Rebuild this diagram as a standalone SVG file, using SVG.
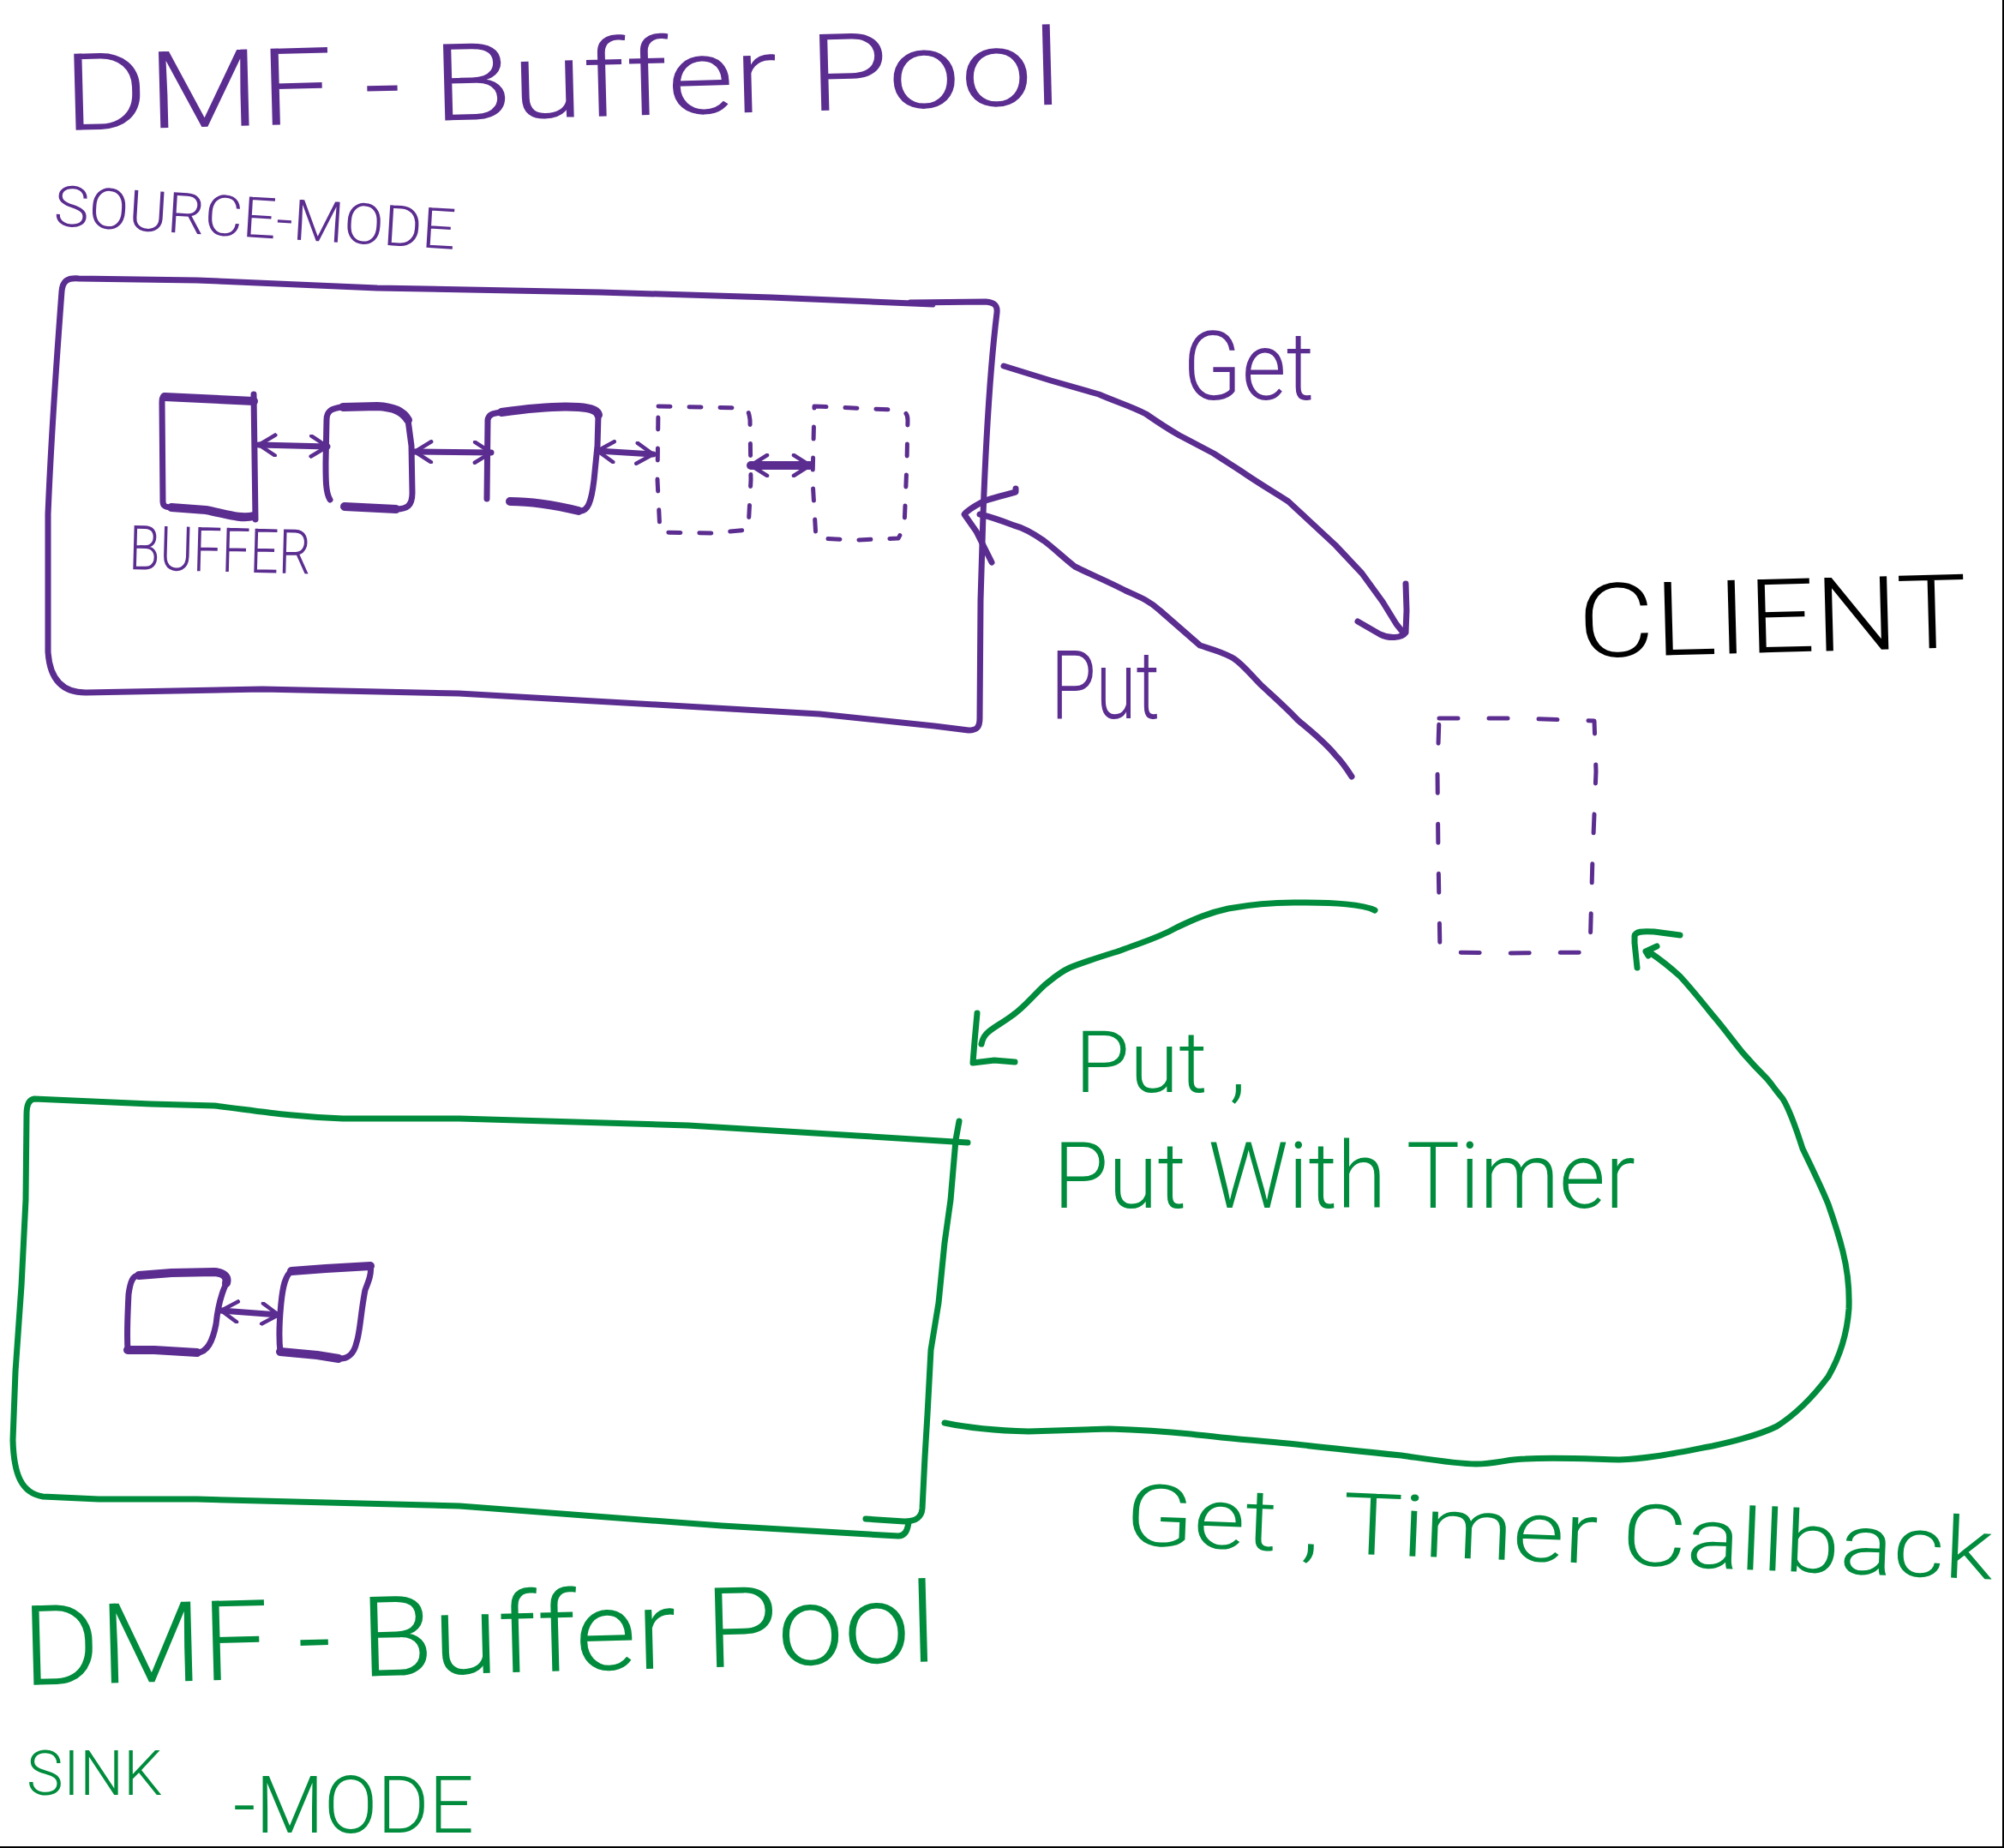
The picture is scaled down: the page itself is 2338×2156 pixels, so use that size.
<svg xmlns="http://www.w3.org/2000/svg" width="2338" height="2156" viewBox="0 0 2338 2156">
<style>
.p{fill:none;stroke:#5b2d90;stroke-width:7;stroke-linecap:round;stroke-linejoin:round}
.g{fill:none;stroke:#008c3c;stroke-width:7;stroke-linecap:round;stroke-linejoin:round}
.thick{stroke-width:10}
.dash{stroke-dasharray:14 22;stroke-width:5}
.dashc{stroke-dasharray:22 36;stroke-width:5}
.tp{fill:#5b2d90}
.tg{fill:#008c3c}
text{font-family:Roboto,"Liberation Sans",sans-serif;font-weight:300}
</style>
<defs>
<marker id="ah" viewBox="0 0 24 28" refX="22" refY="14" markerWidth="24" markerHeight="28" markerUnits="userSpaceOnUse" orient="auto-start-reverse">
<path d="M3,2 L22,14 L3,26" fill="none" stroke="#5b2d90" stroke-width="4.5" stroke-linecap="round" stroke-linejoin="round"/>
</marker>
</defs>
<rect x="0" y="0" width="2338" height="2156" fill="#fff"/>
<path d="M2337,0 V2155 H0" fill="none" stroke="#000" stroke-width="2"/>

<g id="title-source">
<text class="tp" x="75" y="152" font-size="125" textLength="1165" lengthAdjust="spacingAndGlyphs" transform="rotate(-1.5 75 152)">DMF - Buffer Pool</text>
<text class="tp" x="62" y="263" font-size="66" textLength="469" lengthAdjust="spacingAndGlyphs" transform="rotate(3.4 62 263)">SOURCE-MODE</text>
</g>

<g id="source-pool">
<path class="p" d="M1088,355 L900,347 L700,341 L440,336 L230,327 L92,325 C78,324 73,328 72,340 C66,420 60,500 56,600 L56,760 C58,795 75,808 100,808 L306,804 L535,809 L765,822 L956,833 L1090,847 L1130,852 C1140,852 1143,848 1143,838 L1144,700 L1147,600 C1150,520 1155,430 1163,365 C1164,356 1160,353 1150,352 L1062,353"/>
</g>

<g id="buffer-1">
<path class="p thick" d="M296,468 L192,463"/>
<path class="p" d="M192,463 C189,463 189,466 189,470 L190,585 C190,591 194,592 200,592"/>
<path class="p thick" d="M200,592 L240,595 C262,599 280,606 296,602"/>
<path class="p" d="M296,460 L298,606"/>
<text class="tp" x="150" y="664" font-size="72" textLength="212" lengthAdjust="spacingAndGlyphs" transform="rotate(1.5 150 664)">BUFFER</text>
</g>
<g id="buffer-2">
<path class="p" d="M385,583 C380,575 380,560 380,540 L381,490 C381,480 386,476 400,475"/>
<path class="p thick" d="M400,475 L440,474 C460,475 470,480 476,490"/>
<path class="p" d="M476,490 L480,520 L481,575 C481,590 475,594 462,594"/>
<path class="p thick" d="M462,594 L402,591"/>
</g>
<g id="buffer-3">
<path class="p" d="M568,582 L569,490 C570,484 574,482 585,481"/>
<path class="p thick" d="M585,481 C620,476 650,473 675,475 C690,476 697,479 698,484"/>
<path class="p" d="M698,484 L697,520 L693,560 C690,585 686,598 675,596"/>
<path class="p thick" d="M675,596 C650,590 620,585 595,585"/>
</g>
<g id="buffer-4">
<path class="p dash" d="M768,474 L868,476 C873,478 874,482 875,490 L876,560 L873,618 L830,622 L770,621 L767,560 Z"/>
</g>
<g id="buffer-5">
<path class="p dash" d="M950,474 L1040,478 C1056,478 1059,482 1059,490 L1058,540 L1055,615 L1048,628 L1000,630 L952,628 L948,560 Z"/>
</g>

<g id="client">
<text x="1842" y="767" font-size="120" textLength="454" lengthAdjust="spacingAndGlyphs" fill="#000" transform="rotate(-1.5 1842 767)">CLIENT</text>
<path class="p dashc" d="M1679,838 L1770,838 L1860,841 L1862,900 L1858,1000 L1855,1111 L1760,1112 L1680,1111 L1678,1000 L1677,900 Z"/>
</g>

<g id="sink-pool">
<path class="g" d="M1129,1333 L1000,1325 L803,1313 L536,1305 L400,1305 C340,1303 300,1296 250,1290 L176,1288 L40,1282 C33,1283 31,1290 31,1300 L30,1400 L25,1500 L18,1600 L15,1680 C16,1720 25,1742 50,1746 L115,1749 L230,1749 L536,1757 L842,1780 L1048,1792 C1056,1792 1059,1785 1060,1776"/>
<path class="g" d="M1119,1308 L1115,1330 L1109,1400 L1102,1450 L1095,1520 L1086,1575 L1082,1650 L1079,1700 L1076,1760 C1075,1771 1068,1775 1055,1775 L1010,1772"/>
</g>
<g id="sink-buffer-1">
<path class="p thick" d="M162,1488 L200,1485 L250,1484 C262,1485 266,1490 264,1497"/>
<path class="p" d="M264,1497 C258,1510 254,1525 252,1545 C248,1565 242,1578 230,1578"/>
<path class="p thick" d="M230,1578 L180,1575 L149,1575"/>
<path class="p" d="M149,1575 C148,1560 149,1530 150,1510 C152,1495 155,1488 162,1488"/>
</g>
<g id="sink-buffer-2">
<path class="p thick" d="M340,1483 L380,1480 L432,1477"/>
<path class="p" d="M432,1477 C434,1485 430,1495 426,1505 C421,1530 420,1555 416,1566 C413,1580 405,1586 395,1585"/>
<path class="p thick" d="M395,1585 L370,1581 L327,1577"/>
<path class="p" d="M327,1577 C325,1560 326,1540 328,1520 C330,1500 333,1488 340,1483"/>
</g>

<g id="title-sink">
<text class="tg" x="27" y="1966" font-size="130" textLength="1067" lengthAdjust="spacingAndGlyphs" transform="rotate(-1.5 27 1966)">DMF - Buffer Pool</text>
<text class="tg" x="31" y="2094" font-size="72">SINK<tspan x="272" y="2138" font-size="92">-MODE</tspan></text>
</g>

<g id="connectors">
<path class="p" d="M302,519 L382,521" marker-start="url(#ah)" marker-end="url(#ah)"/>
<path class="p" d="M484,527 L573,528" marker-start="url(#ah)" marker-end="url(#ah)"/>
<path class="p" d="M697,526 L762,530" marker-start="url(#ah)" marker-end="url(#ah)"/>
<path class="p thick" d="M876,543 L945,543" marker-start="url(#ah)" marker-end="url(#ah)"/>
<path class="p" d="M258,1529 L325,1534" marker-start="url(#ah)" marker-end="url(#ah)"/>

<g id="get-source">
<path class="p" d="M1171,427 L1226,444 L1282,460 C1300,468 1320,474 1337,483 C1350,492 1362,500 1376,508 L1416,529 C1428,537 1438,543 1447,549 C1470,565 1488,575 1503,585 L1530,610 L1558,636 L1589,669 L1613,702 L1629,728 L1637,738"/>
<path class="p" d="M1584,725 L1610,740 C1620,745 1635,745 1640,738 L1641,712 L1640,681"/>
<text class="tp" x="1380" y="466" font-size="112" textLength="153" lengthAdjust="spacingAndGlyphs">Get</text>
</g>
<g id="put-source">
<path class="p" d="M1577,906 C1570,895 1565,888 1558,881 C1545,865 1528,852 1514,840 C1500,825 1485,812 1471,799 C1460,788 1450,775 1439,768 C1425,760 1412,757 1400,753 C1385,740 1368,725 1353,712 C1340,700 1326,695 1313,689 C1292,678 1272,670 1254,661 C1240,650 1230,640 1218,631 C1205,622 1195,616 1183,613 C1170,608 1156,603 1143,600"/>
<path class="p" d="M1185,570 L1185,574 C1170,578 1155,582 1147,585 C1138,590 1130,594 1125,600 L1139,620 L1157,656"/>
<text class="tp" x="1226" y="838" font-size="112" textLength="127" lengthAdjust="spacingAndGlyphs">Put</text>
</g>
<g id="put-sink">
<path class="g" d="M1604,1062 C1590,1055 1560,1053 1509,1053 C1480,1053 1455,1056 1433,1060 C1410,1065 1394,1072 1373,1082 C1350,1095 1330,1100 1307,1109 C1285,1116 1265,1122 1248,1129 C1235,1135 1228,1142 1219,1149 C1205,1162 1195,1175 1182,1184 C1170,1193 1160,1198 1153,1204 C1148,1208 1146,1213 1145,1218"/>
<path class="g" d="M1140,1182 L1137,1215 L1135,1240 L1160,1237 L1184,1239"/>
<text class="tg" x="1254" y="1274" font-size="100" textLength="200" lengthAdjust="spacingAndGlyphs">Put ,</text>
<text class="tg" x="1229" y="1409" font-size="108" textLength="679" lengthAdjust="spacingAndGlyphs">Put With Timer</text>
</g>
<g id="get-sink">
<path class="g" d="M1102,1660 C1130,1666 1160,1669 1200,1670 L1294,1667 C1330,1668 1360,1670 1389,1673 C1430,1678 1470,1681 1512,1685 C1555,1690 1595,1694 1635,1698 C1670,1703 1700,1708 1722,1708 C1745,1708 1760,1702 1780,1702 C1815,1700 1850,1702 1889,1703 C1925,1702 1960,1694 1998,1687 C2030,1680 2055,1673 2073,1664 C2095,1650 2115,1630 2133,1606 C2148,1580 2155,1555 2157,1527 C2158,1500 2155,1480 2150,1460 C2145,1440 2140,1425 2133,1405 C2125,1385 2115,1365 2103,1340 C2095,1315 2088,1295 2080,1282 C2070,1270 2065,1262 2060,1257 C2048,1245 2040,1236 2033,1228 C2020,1212 2010,1198 1997,1183 C1985,1168 1972,1152 1960,1139 C1948,1128 1935,1118 1923,1110"/>
<path class="g" d="M1933,1104 L1920,1110 L1923,1115"/>
<path class="g" d="M1910,1129 L1907,1100 L1907,1092 C1908,1087 1915,1086 1930,1087 L1960,1091"/>
<text class="tg" x="1312" y="1802" font-size="100" textLength="1013" lengthAdjust="spacingAndGlyphs" transform="rotate(2.3 1312 1802)">Get , Timer Callback</text>
</g>
</g>
</svg>
